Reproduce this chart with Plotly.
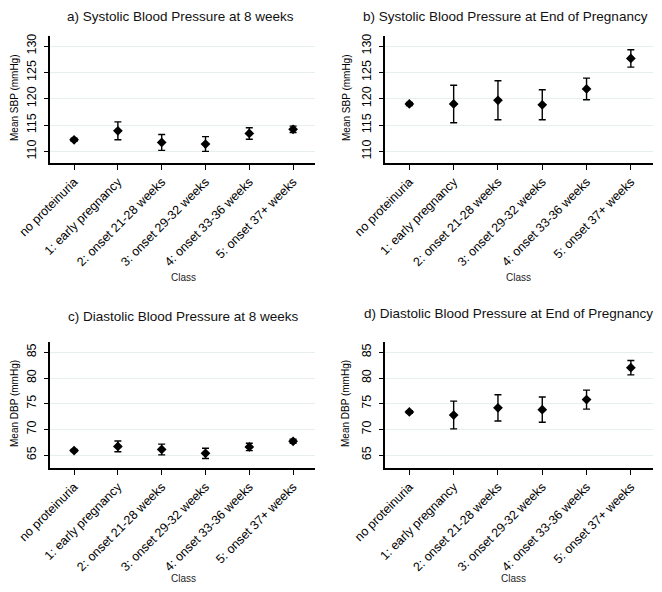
import plotly.graph_objects as go

categories = ["no proteinuria", "1: early pregnancy", "2: onset 21-28 weeks",
              "3: onset 29-32 weeks", "4: onset 33-36 weeks", "5: onset 37+ weeks"]

sbp8_mean = [112.2, 113.9, 111.7, 111.4, 113.4, 114.2]
sbp8_err = [0.3, 1.7, 1.5, 1.4, 1.1, 0.6]

sbp_end_mean = [119.0, 119.0, 119.7, 118.85, 121.85, 127.65]
sbp_end_err = [0.3, 3.55, 3.7, 2.85, 2.05, 1.65]

dbp8_mean = [65.9, 66.7, 66.1, 65.35, 66.6, 67.7]
dbp8_err = [0.2, 1.05, 1.05, 1.0, 0.72, 0.38]

dbp_end_mean = [73.4, 72.8, 74.2, 73.85, 75.8, 82.0]
dbp_end_err = [0.25, 2.7, 2.55, 2.45, 1.85, 1.4]

sbp_ticks = [110, 115, 120, 125, 130]
dbp_ticks = [65, 70, 75, 80, 85]

titles = ["a) Systolic Blood Pressure at 8 weeks",
          "b) Systolic Blood Pressure at End of Pregnancy",
          "c) Diastolic Blood Pressure at 8 weeks",
          "d) Diastolic Blood Pressure at End of Pregnancy"]
ytitles = ["Mean SBP (mmHg)", "Mean SBP (mmHg)", "Mean DBP (mmHg)", "Mean DBP (mmHg)"]

# the page body keeps an 8px margin; size the figure so it fits the window exactly
OFF = 8
W, H = 662 - 2 * OFF, 592 - 2 * OFF
FONT = "Liberation Sans, Arial, sans-serif"


def px(x):
    return (x - OFF) / W


def py(y):
    return 1 - (y - OFF) / H


panels = [
    dict(means=sbp8_mean, errs=sbp8_err, ticks=sbp_ticks, rng=[107.8, 131.9],
         box=(50, 315, 36, 163), title=(180, 8, "center", "top"), ytitle_xy=(14, 98), xtitle_xy=(183, 277)),
    dict(means=sbp_end_mean, errs=sbp_end_err, ticks=sbp_ticks, rng=[107.8, 131.9],
         box=(385, 653, 36, 163), title=(649, 8, "right", "top"), ytitle_xy=(346, 98), xtitle_xy=(518, 277)),
    dict(means=dbp8_mean, errs=dbp8_err, ticks=dbp_ticks, rng=[62.5, 87.0],
         box=(50, 315, 342, 468), title=(183, 316, "center", "middle"), ytitle_xy=(14, 404), xtitle_xy=(183, 578)),
    dict(means=dbp_end_mean, errs=dbp_end_err, ticks=dbp_ticks, rng=[62.5, 87.0],
         box=(385, 653, 342, 468), title=(654, 313, "right", "middle"), ytitle_xy=(345, 404), xtitle_xy=(513, 578)),
]

fig = go.Figure()
annotations = []
for i, p in enumerate(panels):
    n = "" if i == 0 else str(i + 1)
    fig.add_trace(go.Scatter(
        x=list(range(len(categories))), y=p["means"],
        mode="markers",
        marker=dict(symbol="diamond", size=7.5, color="black"),
        error_y=dict(type="data", array=p["errs"], visible=True,
                     color="black", thickness=1.4, width=3.5),
        xaxis="x" + n, yaxis="y" + n, showlegend=False,
    ))
    x0, x1, y0, y1 = p["box"]
    fig.layout["xaxis" + n] = dict(
        domain=[px(x0), px(x1)], anchor="y" + n, automargin=False,
        range=[-0.55, 5.5], tickmode="array",
        tickvals=list(range(len(categories))), ticktext=categories,
        tickangle=-45, ticks="outside", ticklen=5, tickwidth=1.2, tickcolor="black",
        showline=True, linecolor="black", linewidth=1.5, showgrid=False, zeroline=False,
        tickfont=dict(family=FONT, size=12.5, color="black"), fixedrange=True,
    )
    fig.layout["yaxis" + n] = dict(
        domain=[py(y1), py(y0)], anchor="x" + n, automargin=False,
        range=p["rng"], tickmode="array", tickvals=p["ticks"],
        tickangle=-90, ticks="outside", ticklen=4, tickwidth=1.2, tickcolor="black",
        ticklabelstandoff=3,
        showline=True, linecolor="black", linewidth=1.5,
        showgrid=True, gridcolor="#e6eeee", gridwidth=1, zeroline=False,
        tickfont=dict(family=FONT, size=12.5, color="black"), fixedrange=True,
    )
    tx, ty, tax, tay = p["title"]
    annotations.append(dict(text=titles[i], x=px(tx), y=py(ty), xref="paper", yref="paper",
                            showarrow=False, xanchor=tax, yanchor=tay, borderpad=0,
                            font=dict(family=FONT, size=13.5, color="#111")))
    yx, yy = p["ytitle_xy"]
    annotations.append(dict(text=ytitles[i], x=px(yx), y=py(yy), xref="paper", yref="paper",
                            showarrow=False, xanchor="center", yanchor="middle", textangle=-90,
                            font=dict(family=FONT, size=10, color="black")))
    cx, cy = p["xtitle_xy"]
    annotations.append(dict(text="Class", x=px(cx), y=py(cy), xref="paper", yref="paper",
                            showarrow=False, xanchor="center", yanchor="middle",
                            font=dict(family=FONT, size=10, color="#222")))

fig.update_layout(
    width=W, height=H, margin=dict(l=0, r=0, t=0, b=0, autoexpand=False),
    paper_bgcolor="white", plot_bgcolor="white",
    annotations=annotations,
)
fig.write_html("out.html")
